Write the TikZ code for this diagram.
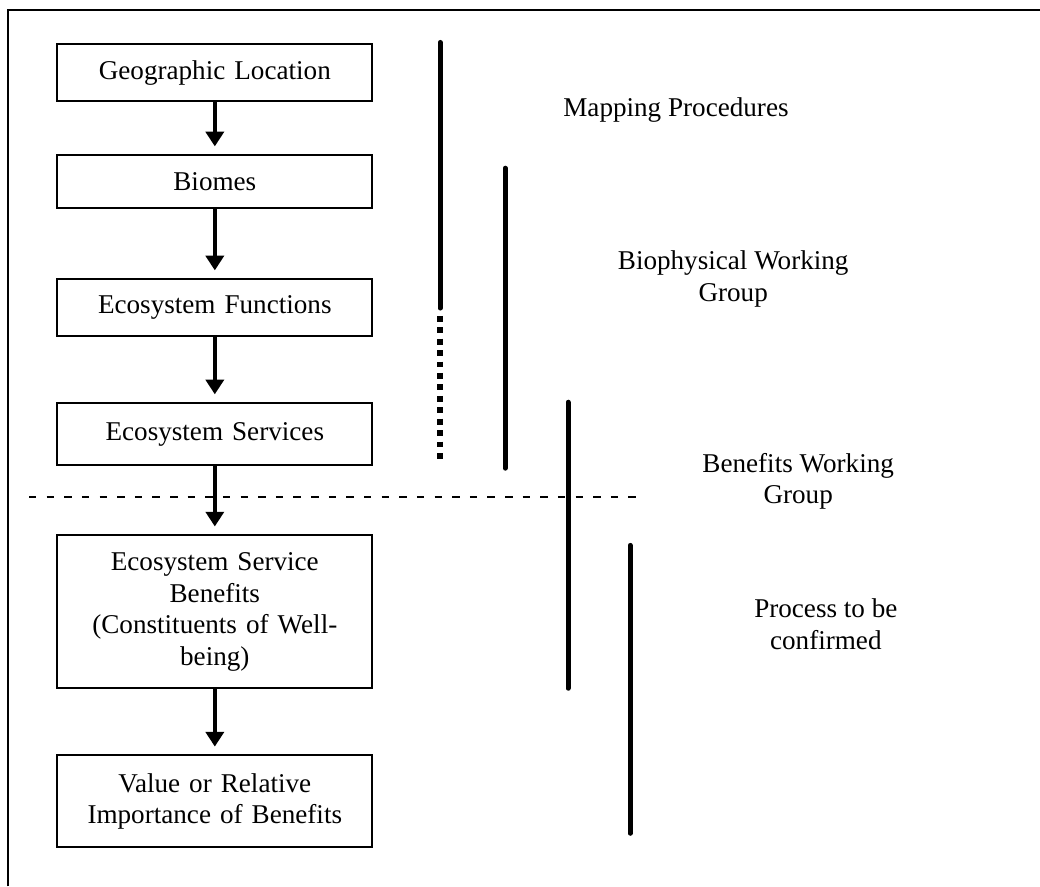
\documentclass[tikz,border=0pt]{standalone}
\usepackage{fontspec}
\setmainfont{Liberation Serif}
\usetikzlibrary{positioning,arrows.meta}

\begin{document}
\begin{tikzpicture}[
  stagebox/.style={draw=black,line width=0.8pt,minimum width=4.9cm,text width=4.7cm,align=center,inner sep=1pt,font=\fontsize{12}{14}\selectfont},
  flow/.style={line width=1.5pt,-{Triangle[length=6.5pt,width=8pt]},shorten >=3.5pt},
  groupbar/.style={line width=2.2pt,line cap=round},
  grouplabel/.style={align=center,font=\fontsize{12}{14}\selectfont}]
\useasboundingbox (0,0) rectangle (16.17,13.78);
% frame
\draw[line width=0.9pt] (0.124,0) -- (0.124,13.62) -- (16.3,13.62);
% stages
\node[stagebox,minimum height=0.886cm] (geo) at (3.34,12.65) {Geographic Location};
\node[stagebox,minimum height=0.824cm] (biomes) at (3.34,10.955) {Biomes};
\node[stagebox,minimum height=0.886cm] (functions) at (3.34,8.996) {Ecosystem Functions};
\node[stagebox,minimum height=0.964cm] (services) at (3.34,7.03) {Ecosystem Services};
\node[stagebox,minimum height=2.379cm] (benefits) at (3.34,4.268) {Ecosystem Service\\Benefits\\(Constituents of Well-\\being)};
\node[stagebox,minimum height=1.43cm] (value) at (3.34,1.32) {Value or Relative\\Importance of Benefits};
\draw[flow] (geo) -- (biomes);
\draw[flow] (biomes) -- (functions);
\draw[flow] (functions) -- (services);
\draw[flow] (services) -- (benefits);
\draw[flow] (benefits) -- (value);
% divider
\draw[line width=0.8pt,dash pattern=on 3.3pt off 4.5pt] (0.451,6.049) -- (10.0,6.049);
% working group bars
\draw[groupbar] (6.842,13.12) -- (6.842,8.99);
\draw[line width=2.4pt,dash pattern=on 2.6pt off 2.46pt] (6.842,8.87) -- (6.842,6.60);
\draw[groupbar] (7.853,11.165) -- (7.853,6.50);
\draw[groupbar] (8.832,7.526) -- (8.832,3.079);
\draw[groupbar] (9.797,5.30) -- (9.797,0.824);
% labels
\node[grouplabel] (mapping) at (10.51,12.07) {Mapping Procedures};
\node[grouplabel] (biophys) at (11.40,9.447) {Biophysical Working\\Group};
\node[grouplabel] (benefitwg) at (12.41,6.298) {Benefits Working\\Group};
\node[grouplabel] (process) at (12.84,4.074) {Process to be\\confirmed};
\end{tikzpicture}
\end{document}
